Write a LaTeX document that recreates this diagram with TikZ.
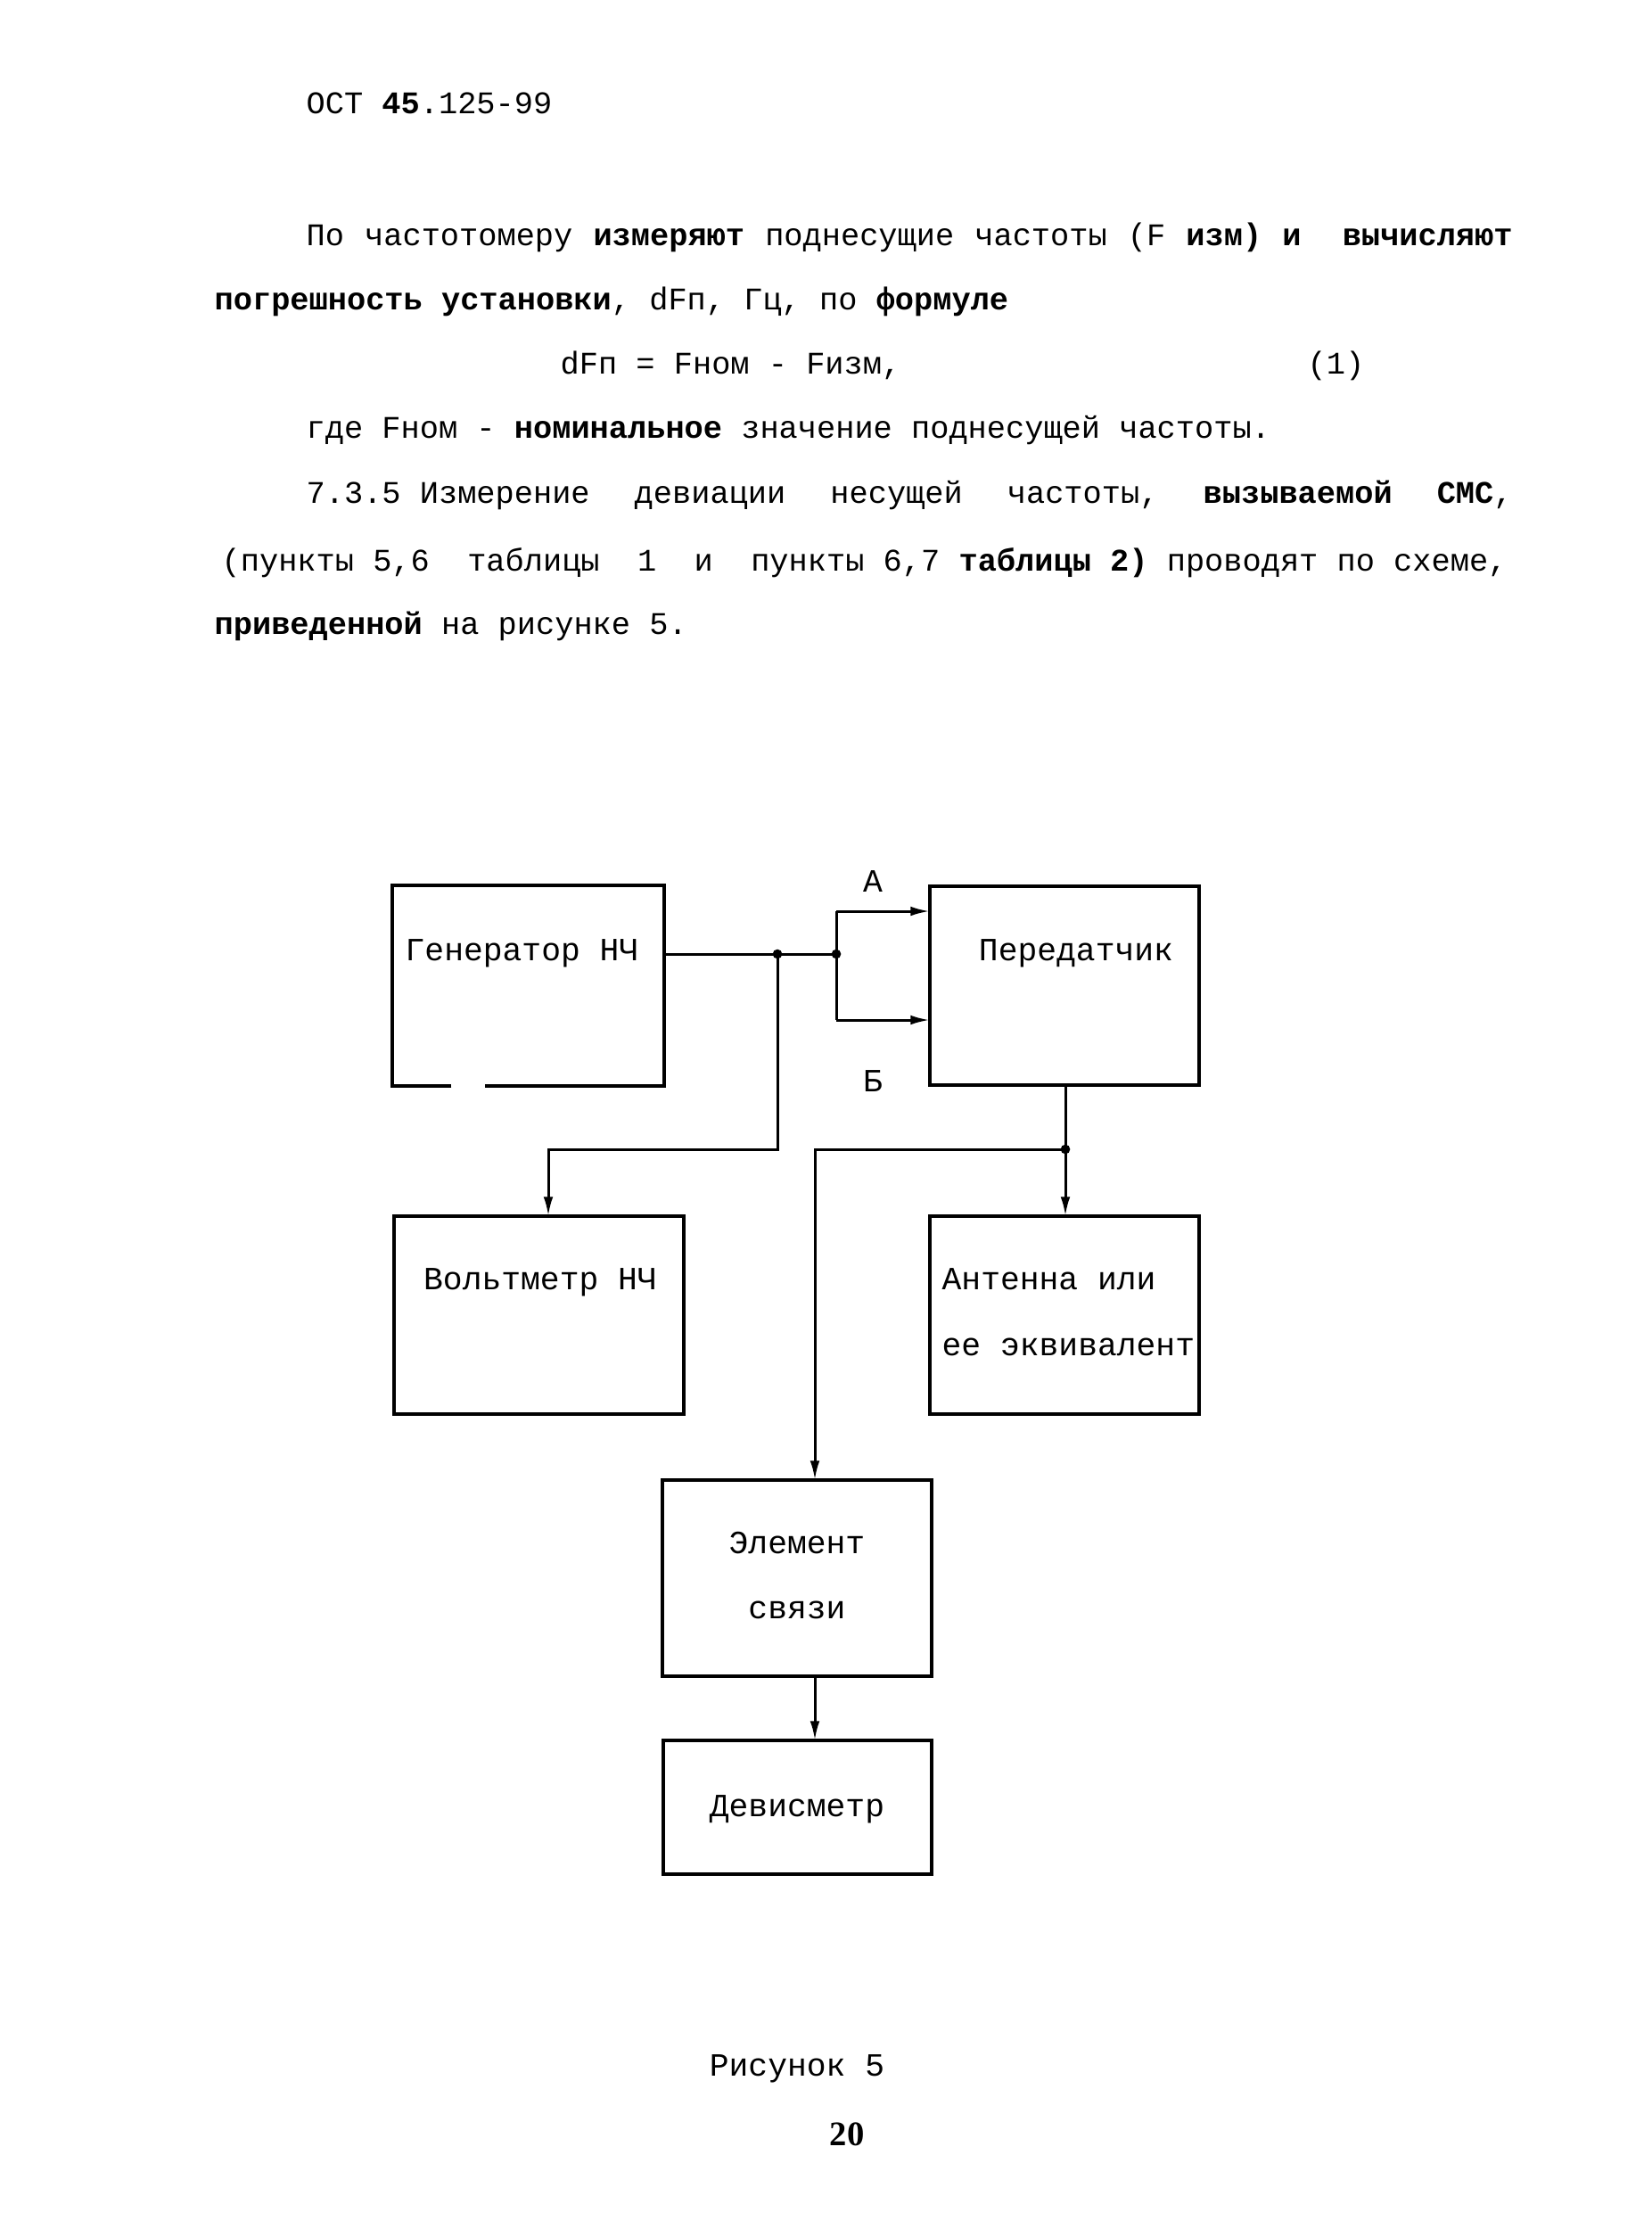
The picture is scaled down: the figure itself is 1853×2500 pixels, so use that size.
\documentclass[tikz,border=0pt]{standalone}
\usepackage{fontspec}
\setmonofont{Liberation Mono}
\newfontfamily\pagenum{Liberation Serif}
\usetikzlibrary{arrows.meta,calc}
\begin{document}
\begin{tikzpicture}[x=0.3pt,y=-0.3pt,
  txt/.style={inner sep=0pt,font=\ttfamily\fontsize{10.6pt}{12pt}\selectfont},
  dtxt/.style={inner sep=0pt,font=\ttfamily\fontsize{10.9pt}{12pt}\selectfont},
  box/.style={draw,line width=1.2pt,inner sep=0pt},
  ebox/.style={inner sep=0pt},
  conn/.style={line width=0.9pt},
  arr/.style={line width=0.9pt,-{Latex[length=6.5pt,width=3.2pt]}},
  dot/.style={circle,fill,inner sep=0pt,minimum size=3.2pt}]
\useasboundingbox (0,0) rectangle (1853,2500);
% header and body text
\node[txt,anchor=mid west] (hdr) at (343,120) {ОСТ \textbf{45}.125-99};
\node[txt,anchor=mid west] (l1) at (343,268) {\hbox to 405.9pt{По\hfill частотомеру\hfill \textbf{измеряют}\hfill поднесущие\hfill частоты\hfill (F\hfill \textbf{изм)}\hfill \textbf{и}\hfill\hfill \textbf{вычисляют}}};
\node[txt,anchor=mid west] (l2) at (240,340) {\textbf{погрешность} \textbf{установки}, dFп, Гц, по \textbf{формуле}};
\node[txt,anchor=mid west] (l3) at (628,412) {dFп = Fном - Fизм,};
\node[txt,anchor=mid west] (l3n) at (1466,412) {(1)};
\node[txt,anchor=mid west] (l4) at (343,484) {где Fном - \textbf{номинальное} значение поднесущей частоты.};
\node[txt,anchor=mid west] (l5) at (343,557) {\hbox to 405.9pt{7.3.5 Измерение\hfill девиации\hfill несущей\hfill частоты,\hfill \textbf{вызываемой}\hfill \textbf{СМС},}};
\node[txt,anchor=mid west] (l6) at (248,633) {(пункты 5,6~~таблицы~~1~~и~~пункты 6,7 \textbf{таблицы 2)} проводят по схеме,};
\node[txt,anchor=mid west] (l7) at (240,704) {\textbf{приведенной} на рисунке 5.};
% boxes
\node[ebox,minimum width=90.9pt,minimum height=66.9pt] (gen) at (592.5,1105.5) {};
\draw[line width=1.2pt] ($(gen.south west)+(66,0)$) -- (gen.south west) -- (gen.north west) -- (gen.north east) -- (gen.south east) -- ($(gen.south west)+(104,0)$);
\node[box,minimum width=90.6pt,minimum height=66.9pt] (tx) at (1194,1105.5) {};
\node[box,minimum width=97.5pt,minimum height=66.6pt] (volt) at (604.5,1475) {};
\node[box,minimum width=90.6pt,minimum height=66.6pt] (ant) at (1194,1475) {};
\node[box,minimum width=90.6pt,minimum height=66pt] (elem) at (894,1770) {};
\node[box,minimum width=90.3pt,minimum height=45pt] (dev) at (894.5,2027) {};
% box texts
\node[dtxt,anchor=mid west] (tgen) at (454,1070) {Генератор НЧ};
\node[dtxt,anchor=mid] (ttx) at (1207,1070) {Передатчик};
\node[dtxt,anchor=mid] (tvolt) at (606,1439) {Вольтметр НЧ};
\node[dtxt,anchor=mid west] (tant1) at (1056,1439) {Антенна или};
\node[dtxt,anchor=mid west] (tant2) at (1056,1513) {ее эквивалент};
\node[dtxt,anchor=mid] (telem1) at (894,1735) {Элемент};
\node[dtxt,anchor=mid] (telem2) at (894,1808) {связи};
\node[dtxt,anchor=mid] (tdev) at (894,2030) {Девисметр};
\node[dtxt,anchor=mid] (la) at (979,993) {А};
\node[dtxt,anchor=mid] (lb) at (979,1217) {Б};
% caption and page number
\node[dtxt,anchor=mid] (cap) at (894,2321) {Рисунок 5};
\node[inner sep=0pt,font=\pagenum\bfseries\fontsize{11.6pt}{13pt}\selectfont,anchor=mid] (pg) at (950,2399) {20};
% junctions
\coordinate (gout) at (744,1070);
\node[dot] (j1) at (872,1070) {};
\node[dot] (j2) at (938,1070) {};
\coordinate (ja) at (938,1022);
\coordinate (jb) at (938,1144);
\coordinate (tya) at (1043,1022);
\coordinate (tyb) at (1043,1144);
\coordinate (vb) at (872,1289);
\coordinate (vc) at (615,1289);
\coordinate (vt) at (615,1364);
\coordinate (txb) at (1195,1217);
\node[dot] (j3) at (1195,1289) {};
\coordinate (ant_t) at (1195,1364);
\coordinate (ec) at (914,1289);
\coordinate (et) at (914,1660);
\coordinate (eb) at (914,1880);
\coordinate (dt) at (914,1952);
% connectors
\draw[conn] (gout) -- (j1.center) -- (j2.center);
\draw[conn] (ja) -- (jb);
\draw[arr] (ja) -- (tya);
\draw[arr] (jb) -- (tyb);
\draw[arr] (j1.center) -- (vb) -- (vc) -- (vt);
\draw[conn] (txb) -- (j3.center);
\draw[arr] (j3.center) -- (ant_t);
\draw[arr] (j3.center) -- (ec) -- (et);
\draw[arr] (eb) -- (dt);
\end{tikzpicture}
\end{document}
